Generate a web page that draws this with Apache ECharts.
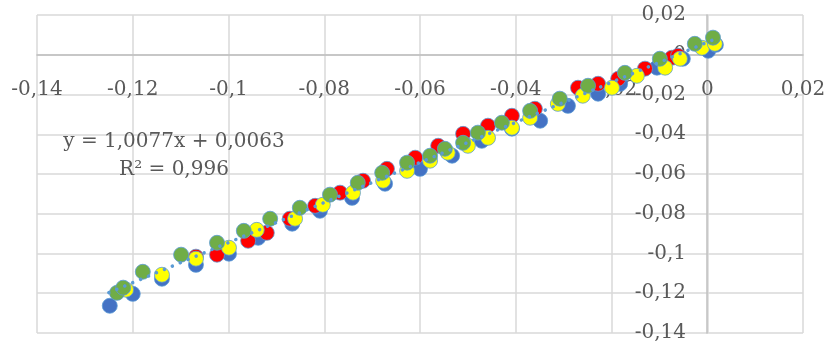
<!DOCTYPE html>
<html>
<head>
<meta charset="utf-8">
<script src="https://cdn.jsdelivr.net/npm/echarts@6/dist/echarts.min.js"></script>
<style>
html,body{margin:0;padding:0;background:#fff;}
#c{width:831px;height:349px;}
</style>
</head>
<body>
<div id="c"></div>
<script>
// ---- data ----
var blueData = [
  [-0.1248,-0.1263],[-0.1200,-0.1203],[-0.1139,-0.1127],[-0.1068,-0.1057],[-0.0999,-0.1001],
  [-0.0938,-0.0921],[-0.0867,-0.0850],[-0.0809,-0.0785],[-0.0742,-0.0720],[-0.0673,-0.0649],
  [-0.0600,-0.0574],[-0.0533,-0.0508],[-0.0471,-0.0433],[-0.0408,-0.0372],[-0.0349,-0.0332],
  [-0.0291,-0.0257],[-0.0228,-0.0196],[-0.0182,-0.0146],[-0.0105,-0.0065],[-0.0051,-0.0020],
  [0.0002,0.0020],[0.0018,0.0050]
];
var redData = [
  [-0.1068,-0.1016],[-0.1024,-0.1006],[-0.0959,-0.0936],[-0.0920,-0.0896],[-0.0872,-0.0825],
  [-0.0819,-0.0760],[-0.0767,-0.0694],[-0.0719,-0.0634],[-0.0669,-0.0574],[-0.0610,-0.0518],
  [-0.0562,-0.0458],[-0.0510,-0.0398],[-0.0458,-0.0357],[-0.0408,-0.0307],[-0.0360,-0.0272],
  [-0.0270,-0.0166],[-0.0228,-0.0146],[-0.0186,-0.0121],[-0.0130,-0.0070],[-0.0074,-0.0015],
  [-0.0061,-0.0005]
];
var yellowData = [
  [-0.1214,-0.1182],[-0.1139,-0.1107],[-0.1068,-0.1026],[-0.0999,-0.0971],[-0.0941,-0.0881],
  [-0.0861,-0.0825],[-0.0803,-0.0755],[-0.0740,-0.0694],[-0.0677,-0.0634],[-0.0627,-0.0584],
  [-0.0579,-0.0533],[-0.0542,-0.0493],[-0.0500,-0.0458],[-0.0458,-0.0418],[-0.0408,-0.0367],
  [-0.0370,-0.0317],[-0.0312,-0.0247],[-0.0260,-0.0206],[-0.0199,-0.0166],[-0.0147,-0.0106],
  [-0.0088,-0.0065],[-0.0057,-0.0020],[-0.0011,0.0035],[0.0016,0.0055]
];
var greenData = [
  [-0.1233,-0.1198],[-0.1220,-0.1172],[-0.1179,-0.1092],[-0.1099,-0.1006],[-0.1024,-0.0946],
  [-0.0968,-0.0886],[-0.0913,-0.0825],[-0.0851,-0.0770],[-0.0788,-0.0704],[-0.0730,-0.0644],
  [-0.0679,-0.0594],[-0.0627,-0.0543],[-0.0579,-0.0508],[-0.0548,-0.0473],[-0.0510,-0.0443],
  [-0.0479,-0.0392],[-0.0429,-0.0342],[-0.0370,-0.0282],[-0.0308,-0.0221],[-0.0249,-0.0156],
  [-0.0172,-0.0091],[-0.0099,-0.0020],[-0.0026,0.0055],[0.0012,0.0086]
];
var trendData = [[-0.1250,-0.1197],[0.0020,0.0083]];
var equationText = 'y = 1,0077x + 0,0063';
var r2Text = 'R² = 0,996';
var axisMin = -0.14, axisMax = 0.02, axisStep = 0.02;

// ---- chart ----
var FONT = 'DejaVu Serif';
var TXT = '#595959';
var GRID = {left:37, right:28, top:15, bottom:16};
var W = 831, H = 349;
var plotW = W - GRID.left - GRID.right, plotH = H - GRID.top - GRID.bottom;
// axes cross at zero: shift the axis lines to the zero position of the other axis
var yAxisOffset = -Math.round((0 - axisMin) / (axisMax - axisMin) * plotW);
var xAxisOffset = -Math.round((0 - axisMin) / (axisMax - axisMin) * plotH);
function fmt(v){ var s = String(Number(v.toFixed(2))); return s.replace('.', ','); }
function sc(data, color, z){
  return {type:'scatter', data:data, symbol:'circle', symbolSize:15, z:z,
    itemStyle:{color:color, borderColor:'#5b9bd5', borderWidth:0.8, opacity:1},
    emphasis:{disabled:true}, animation:false};
}
var chart = echarts.init(document.getElementById('c'), null, {renderer:'canvas'});
chart.setOption({
  animation:false,
  backgroundColor:'#ffffff',
  grid:{left:GRID.left, right:GRID.right, top:GRID.top, bottom:GRID.bottom, containLabel:false},
  xAxis:{type:'value', min:axisMin, max:axisMax, interval:axisStep, position:'bottom', offset:xAxisOffset,
    axisLine:{show:true, onZero:false, lineStyle:{color:'#bfbfbf', width:1.5}},
    axisTick:{show:false},
    axisLabel:{color:TXT, fontFamily:FONT, fontSize:20, margin:25, formatter:fmt},
    splitLine:{show:true, lineStyle:{color:'#d9d9d9', width:1.5}}},
  yAxis:{type:'value', min:axisMin, max:axisMax, interval:axisStep, position:'left', offset:yAxisOffset,
    axisLine:{show:true, onZero:false, lineStyle:{color:'#bfbfbf', width:1.5}},
    axisTick:{show:false},
    axisLabel:{color:TXT, fontFamily:FONT, fontSize:20, margin:21, padding:[5,0,0,0], formatter:fmt},
    splitLine:{show:true, lineStyle:{color:'#d9d9d9', width:1.5}}},
  series:[
    sc(blueData,'#4472c4',2),
    sc(redData,'#ff0000',3),
    sc(yellowData,'#ffff00',4),
    sc(greenData,'#70ad47',5),
    {type:'line', data:trendData, symbol:'none', z:10, silent:true,
      lineStyle:{color:'#5b9bd5', width:3.5, type:[0.1,8.5], cap:'round'}}
  ],
  graphic:[
    {type:'text', x:174, y:142, z:20,
      style:{text:equationText, font:'20px "DejaVu Serif"', fill:TXT, textAlign:'center', textVerticalAlign:'middle'}},
    {type:'text', x:174, y:170, z:20,
      style:{text:r2Text, font:'20px "DejaVu Serif"', fill:TXT, textAlign:'center', textVerticalAlign:'middle'}}
  ]
});
</script>
</body>
</html>
